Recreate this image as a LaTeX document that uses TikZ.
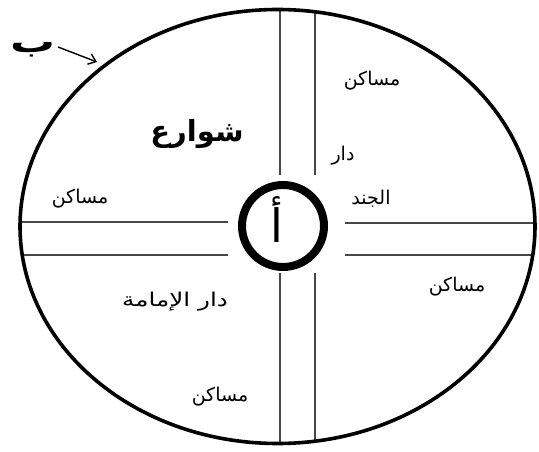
\documentclass[tikz,border=0pt]{standalone}
\usepackage{fontspec}
\TeXXeTstate=1
\newfontfamily\arabicfont[Script=Arabic]{DejaVu Sans}
\usetikzlibrary{arrows.meta}
\tikzset{
  road/.style={line width=1.8pt, draw=black!72},
  label/.style={font=\arabicfont\fontsize{19}{22}\selectfont, inner sep=0pt},
}
\begin{document}
\begin{tikzpicture}[x=1pt,y=-1pt]
\useasboundingbox (0,0) rectangle (539,452);
\fill[white] (0,0) rectangle (539,452);
% roads clipped to the city wall
\begin{scope}
  \clip (277.5,226.5) ellipse [x radius=257.5, y radius=217];
  \draw[road] (0,222) -- (228,222);
  \draw[road] (0,255) -- (228,255);
  \draw[road] (345,223) -- (539,223);
  \draw[road] (345,255) -- (539,255);
  \draw[road] (280,0) -- (280,175);
  \draw[road] (315,0) -- (315,175);
  \draw[road] (280,273) -- (280,452);
  \draw[road] (315,273) -- (315,452);
\end{scope}
% outer wall
\draw[line width=3.6pt] (277.5,226.5) ellipse [x radius=257.5, y radius=217];
% centre circle
\node[circle, draw, line width=8pt, minimum size=82pt, inner sep=0pt] (centre) at (283,226) {};
\node[inner sep=0pt, font=\arabicfont\fontsize{46}{50}\selectfont] (alif) at (277,220) {\beginR أ\endR};
% labels
\node[label] (m1) at (372,81) {\beginR مساكن\endR};
\node[label] (dar) at (343,156) {\beginR دار\endR};
\node[label] (jund) at (371,199) {\beginR الجند\endR};
\node[inner sep=0pt, font=\arabicfont\bfseries\fontsize{29}{32}\selectfont] (shawari) at (197,134) {\beginR شوارع\endR};
\node[label] (m2) at (80,199) {\beginR مساكن\endR};
\node[label] (m3) at (457,287) {\beginR مساكن\endR};
\node[label] (imama) at (175,302) {\scalebox{1.3}[1]{\beginR دار الإمامة\endR}};
\node[label] (m4) at (220,397) {\beginR مساكن\endR};
% label B with arrow
\node[inner sep=0pt, font=\arabicfont\bfseries\fontsize{28}{32}\selectfont] (ba) at (33,50) {\scalebox{1.6}[1.1]{\beginR ب\endR}};
\coordinate (wall) at (97,62);
\draw[line width=1.4pt, -{Straight Barb[length=7pt,width=11pt]}] (58,47) -- (wall);
\end{tikzpicture}
\end{document}
